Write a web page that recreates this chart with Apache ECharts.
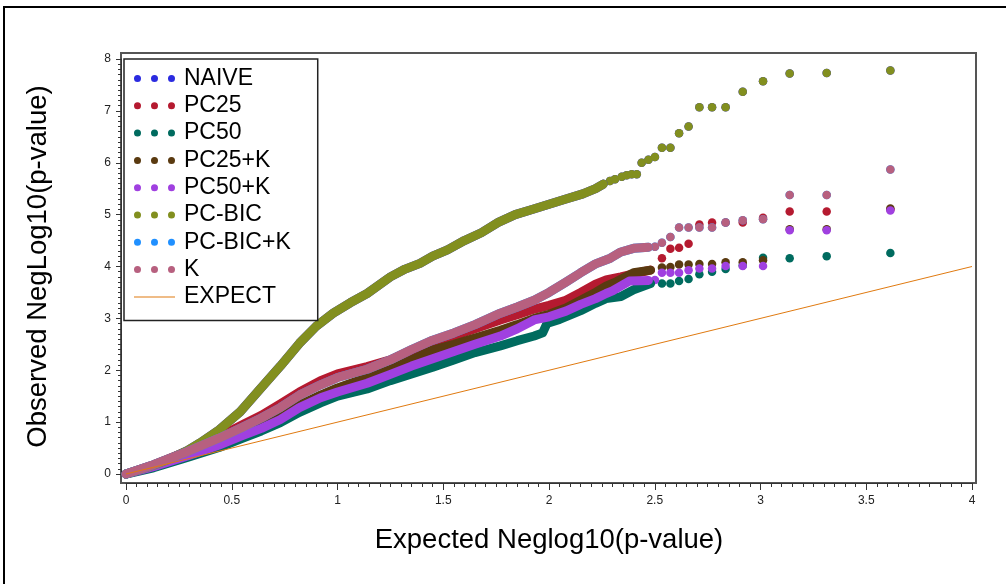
<!DOCTYPE html>
<html>
<head>
<meta charset="utf-8">
<script src="https://cdn.jsdelivr.net/npm/echarts@6/dist/echarts.min.js"></script>
<style>
html,body{margin:0;padding:0;background:#fff;}
#c{width:1006px;height:584px;}
</style>
</head>
<body>
<div id="c"></div>
<script>
// ---------------- data ----------------
const seriesNames = ['NAIVE','PC25','PC50','PC25+K','PC50+K','PC-BIC','PC-BIC+K','K'];
const expectName = 'EXPECT';

// PC-BIC (NAIVE lies exactly underneath it)
const pcbicBand = [[0,0],[0.13,0.17],[0.2,0.28],[0.29,0.45],[0.35,0.6],[0.44,0.85],[0.54,1.2],[0.63,1.62],[0.73,2.08],[0.82,2.52],[0.9,2.85],[0.98,3.1],[1.06,3.3],[1.14,3.48],[1.25,3.8],[1.32,3.95],[1.39,4.06],[1.45,4.2],[1.52,4.32],[1.6,4.5],[1.68,4.65],[1.76,4.85],[1.84,5.0],[1.92,5.1],[2.0,5.2],[2.08,5.3],[2.16,5.4],[2.22,5.5],[2.257,5.59]];
const pcbicTail = [[2.288,5.65],[2.312,5.68],[2.344,5.73],[2.367,5.76],[2.391,5.78],[2.415,5.78],[2.438,6.00],[2.470,6.06],[2.501,6.11],[2.534,6.29],[2.574,6.29],[2.615,6.57],[2.660,6.70],[2.711,7.07],[2.771,7.07],[2.835,7.07],[2.916,7.37],[3.012,7.57],[3.138,7.72],[3.313,7.73],[3.614,7.78]];

// K (PC-BIC+K lies exactly underneath it)
const kBand = [[0,0],[0.13,0.18],[0.29,0.43],[0.44,0.69],[0.55,0.9],[0.64,1.08],[0.73,1.28],[0.82,1.52],[0.92,1.72],[1.0,1.86],[1.14,2.02],[1.25,2.2],[1.35,2.4],[1.45,2.58],[1.55,2.72],[1.65,2.88],[1.77,3.1],[1.85,3.22],[1.93,3.35],[2.0,3.5],[2.08,3.7],[2.15,3.88],[2.22,4.05],[2.29,4.16],[2.34,4.28],[2.40,4.35],[2.47,4.37]];
const kTail = [[2.501,4.38],[2.534,4.46],[2.574,4.57],[2.615,4.75],[2.660,4.75],[2.711,4.75],[2.771,4.75],[2.835,4.85],[2.916,4.89],[3.012,4.91],[3.138,5.38],[3.313,5.38],[3.614,5.87]];

const pc25Band = [[0,0],[0.13,0.18],[0.29,0.44],[0.44,0.72],[0.55,0.95],[0.64,1.13],[0.73,1.35],[0.82,1.58],[0.92,1.8],[1.0,1.93],[1.14,2.07],[1.25,2.2],[1.35,2.38],[1.45,2.55],[1.55,2.66],[1.65,2.8],[1.77,2.97],[1.85,3.07],[1.93,3.18],[2.0,3.25],[2.08,3.35],[2.15,3.5],[2.22,3.66],[2.27,3.74],[2.34,3.8],[2.40,3.86],[2.48,3.93]];
const pc25Tail = [[2.534,4.16],[2.574,4.34],[2.615,4.36],[2.660,4.44],[2.711,4.81],[2.771,4.85],[2.835,4.85],[2.916,4.85],[3.012,4.94],[3.138,5.06],[3.313,5.06],[3.614,5.10]];

const pc25kBand = [[0,0],[0.13,0.15],[0.29,0.38],[0.44,0.6],[0.55,0.78],[0.64,0.93],[0.73,1.1],[0.82,1.33],[0.92,1.52],[1.0,1.66],[1.14,1.86],[1.25,2.02],[1.35,2.2],[1.45,2.39],[1.55,2.5],[1.65,2.62],[1.77,2.77],[1.85,2.88],[1.93,3.0],[2.0,3.08],[2.08,3.2],[2.15,3.35],[2.22,3.5],[2.27,3.62],[2.32,3.71],[2.40,3.88],[2.48,3.93]];
const pc25kTail = [[2.534,3.98],[2.574,3.99],[2.615,4.04],[2.660,4.04],[2.711,4.05],[2.771,4.05],[2.835,4.08],[2.916,4.08],[3.012,4.12],[3.138,4.72],[3.313,4.72],[3.614,5.12]];

const pc50kBand = [[0,0],[0.13,0.14],[0.29,0.35],[0.44,0.56],[0.55,0.74],[0.64,0.88],[0.73,1.05],[0.82,1.28],[0.92,1.47],[1.0,1.58],[1.14,1.75],[1.25,1.92],[1.35,2.08],[1.45,2.22],[1.55,2.36],[1.65,2.5],[1.77,2.66],[1.85,2.8],[1.93,2.97],[2.0,3.03],[2.08,3.14],[2.15,3.27],[2.22,3.38],[2.27,3.48],[2.30,3.53],[2.38,3.72],[2.47,3.73]];
const pc50kTail = [[2.501,3.74],[2.534,3.88],[2.574,3.88],[2.615,3.88],[2.660,3.93],[2.711,3.96],[2.771,3.96],[2.835,4.01],[2.916,4.01],[3.012,4.01],[3.138,4.70],[3.313,4.70],[3.614,5.08]];

const pc50Band = [[0,0],[0.13,0.12],[0.29,0.32],[0.44,0.51],[0.55,0.69],[0.64,0.83],[0.73,0.99],[0.82,1.19],[0.92,1.37],[1.0,1.5],[1.14,1.64],[1.25,1.8],[1.35,1.93],[1.45,2.06],[1.55,2.2],[1.65,2.34],[1.77,2.47],[1.85,2.57],[1.93,2.66],[1.97,2.72],[1.99,2.9],[2.05,2.98],[2.15,3.15],[2.22,3.29],[2.27,3.38],[2.34,3.42],[2.40,3.55],[2.48,3.67]];
const pc50Tail = [[2.534,3.67],[2.574,3.67],[2.615,3.72],[2.660,3.76],[2.711,3.85],[2.771,3.90],[2.835,3.95],[2.916,4.02],[3.012,4.17],[3.138,4.16],[3.313,4.20],[3.614,4.26]];

const expectLine = [[0,0],[4,4]];

const xMin = 0, xMax = 4, xInterval = 0.5;
const yMin = 0, yMax = 8, yInterval = 1;

// ---------------- chart ----------------
const FONT = '"Liberation Sans", Arial, Helvetica, sans-serif';
const colors = {
  'NAIVE':'#2B2BE0','PC25':'#B51A30','PC50':'#006B5F','PC25+K':'#5A3A10',
  'PC50+K':'#A040E0','PC-BIC':'#828F1F','PC-BIC+K':'#2090FF','K':'#B7607F'
};
const expectColor = '#E07A10';
const groups = [
  {name:'NAIVE', band:pcbicBand, tail:pcbicTail},
  {name:'PC25', band:pc25Band, tail:pc25Tail},
  {name:'PC50', band:pc50Band, tail:pc50Tail},
  {name:'PC25+K', band:pc25kBand, tail:pc25kTail},
  {name:'PC50+K', band:pc50kBand, tail:pc50kTail},
  {name:'PC-BIC', band:pcbicBand, tail:pcbicTail},
  {name:'PC-BIC+K', band:kBand, tail:kTail},
  {name:'K', band:kBand, tail:kTail}
];

const series = [];
groups.forEach(g => {
  const c = colors[g.name];
  series.push({
    name:g.name, type:'line', data:g.band, symbol:'none', showSymbol:false, clip:false,
    lineStyle:{color:c, width:9, cap:'round', join:'round', opacity:1}, itemStyle:{color:c},
    silent:true, animation:false
  });
  series.push({
    name:g.name, type:'scatter', data:g.tail, symbol:'circle', symbolSize:8.5, clip:false,
    itemStyle:{color:c, opacity:1}, silent:true, animation:false
  });
});
series.push({
  name:expectName, type:'line', data:expectLine, symbol:'none', showSymbol:false, clip:false,
  lineStyle:{color:expectColor, width:1}, itemStyle:{color:expectColor}, silent:true, animation:false
});

const dotsIcon = 'path://M0,3.5a3.5,3.5 0 1,0 7,0a3.5,3.5 0 1,0 -7,0ZM17,3.5a3.5,3.5 0 1,0 7,0a3.5,3.5 0 1,0 -7,0ZM34,3.5a3.5,3.5 0 1,0 7,0a3.5,3.5 0 1,0 -7,0Z';
const lineIcon = 'path://M0,0M41,7M0,3H41V4H0Z';

const legendData = seriesNames.map(n => ({name:n, icon:dotsIcon, itemStyle:{color:colors[n], borderWidth:0, opacity:1}}));
legendData.push({name:expectName, icon:lineIcon, itemStyle:{color:expectColor, borderWidth:0}});

const axisColor = '#333';
const chart = echarts.init(document.getElementById('c'), null, {renderer:'canvas'});
chart.setOption({
  animation:false,
  backgroundColor:'#fff',
  grid:{left:126, right:34, top:59, bottom:110, containLabel:false},
  xAxis:{
    type:'value', min:xMin, max:xMax, interval:xInterval, offset:9,
    axisLine:{show:true, onZero:false, lineStyle:{color:axisColor, width:1}},
    axisTick:{show:true, length:7, lineStyle:{color:axisColor}},
    minorTick:{show:true, splitNumber:10, length:4, lineStyle:{color:axisColor}},
    splitLine:{show:false},
    axisLabel:{fontSize:12, color:'#222', margin:12, fontFamily:FONT},
    name:'Expected Neglog10(p-value)', nameLocation:'middle', nameGap:43,
    nameTextStyle:{fontSize:27.5, color:'#000', fontFamily:FONT}
  },
  yAxis:{
    type:'value', min:yMin, max:yMax, interval:yInterval, offset:5,
    axisLine:{show:true, onZero:false, lineStyle:{color:axisColor, width:1}},
    axisTick:{show:true, length:5, lineStyle:{color:axisColor}},
    minorTick:{show:true, splitNumber:10, length:3, lineStyle:{color:axisColor}},
    splitLine:{show:false},
    axisLabel:{fontSize:12, color:'#222', margin:10, fontFamily:FONT},
    name:'Observed NegLog10(p-value)', nameLocation:'middle', nameGap:69, nameRotate:90,
    nameTextStyle:{fontSize:27.5, color:'#000', fontFamily:FONT}
  },
  legend:{
    orient:'vertical', left:124, top:59, backgroundColor:'#fff',
    borderColor:'#222', borderWidth:1.5, padding:[8,27,12,10],
    itemGap:4.3, itemWidth:41, itemHeight:7, selectedMode:false,
    textStyle:{fontFamily:FONT, fontSize:23, lineHeight:23, color:'#000', padding:[0,0,0,4]},
    data:legendData
  },
  graphic:[
    {type:'rect', silent:true, z:-1, shape:{x:121, y:53, width:855, height:430},
     style:{fill:'transparent', stroke:'#555', lineWidth:2}},
    {type:'polyline', silent:true, shape:{points:[[4,600],[4,7],[1010,7]]},
     style:{fill:null, stroke:'#000', lineWidth:2}}
  ],
  series:series
});
</script>
</body>
</html>
